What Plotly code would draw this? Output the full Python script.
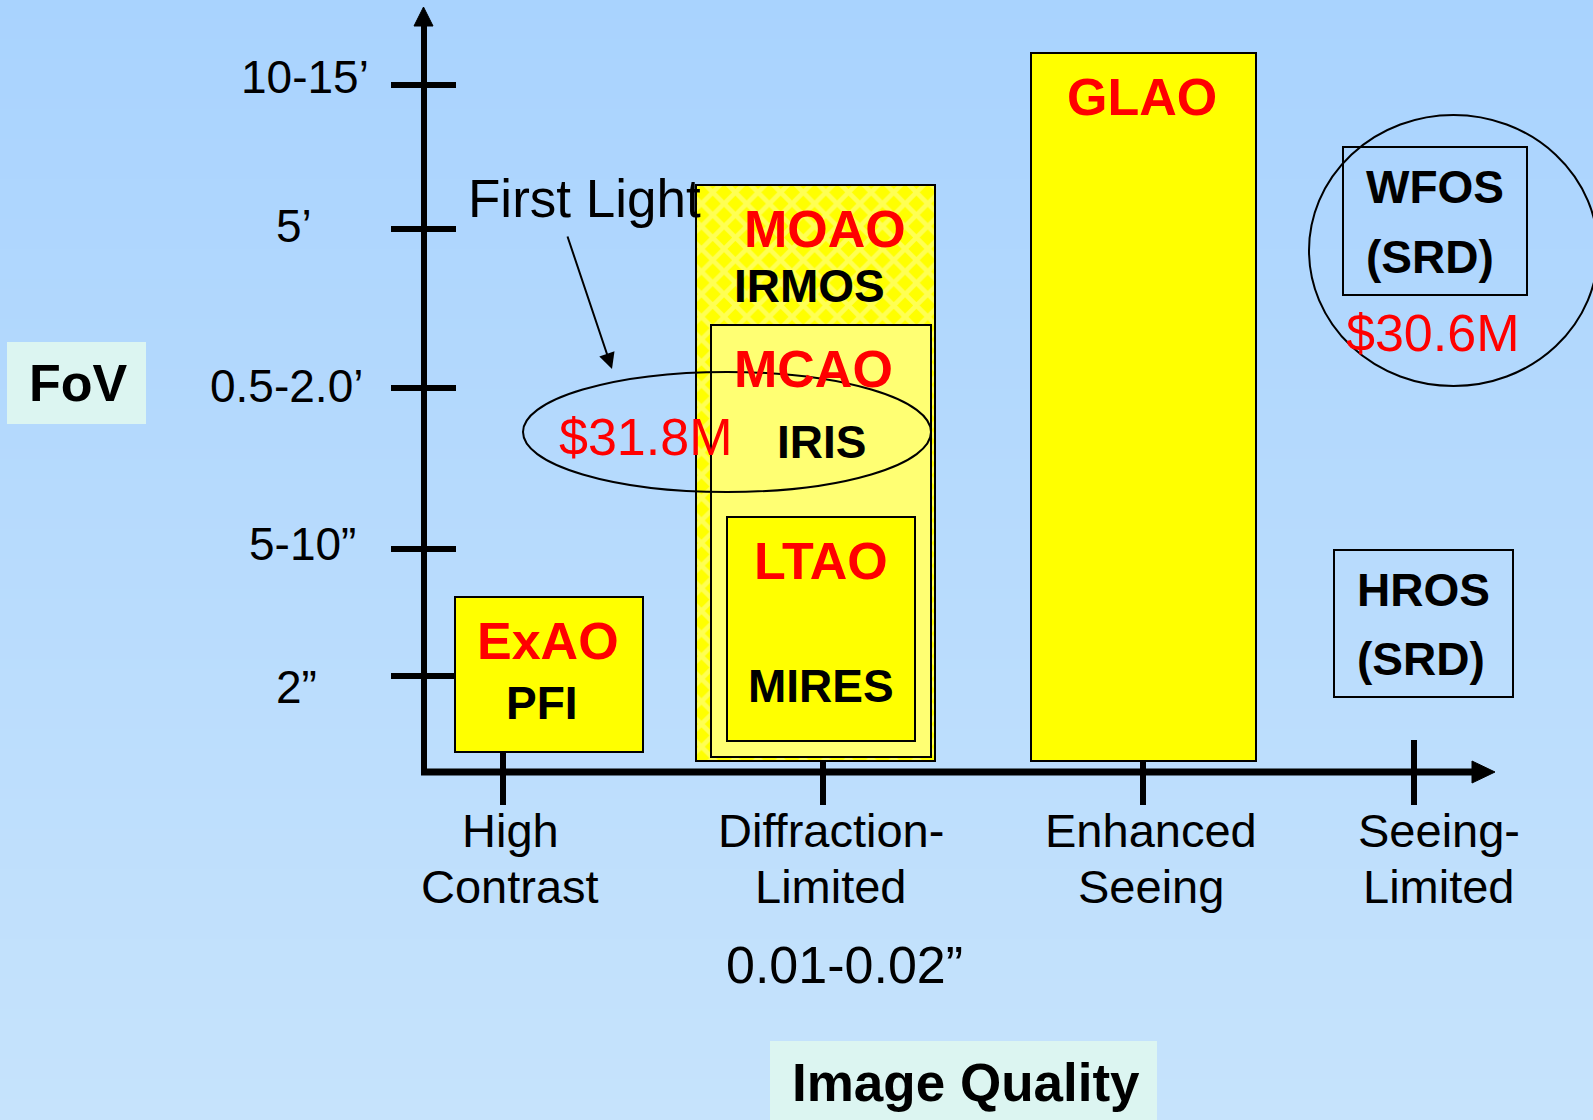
import plotly.graph_objects as go

W, H = 1593, 1120

# ---- data (diagram units, y measured downward) ----
fov_labels = ["10-15’", "5’", "0.5-2.0’", "5-10”", "2”"]
fov_tick_y = [85, 229, 388, 549, 676]
fov_label_x = [305, 294, 286, 302, 296]
fov_label_y = [77, 226, 386, 544, 687]

iq_labels = ["High\nContrast", "Diffraction-\nLimited", "Enhanced\nSeeing", "Seeing-\nLimited"]
iq_tick_x = [503, 823, 1143, 1414]
iq_label_x = [510, 831, 1151, 1439]
iq_sub_label = "0.01-0.02”"

box_names = ["ExAO", "MOAO", "MCAO", "LTAO", "GLAO", "WFOS", "HROS"]
box_x0 = [455, 696, 711, 727, 1031, 1343, 1334]
box_x1 = [643, 935, 931, 915, 1256, 1527, 1513]
box_y0 = [597, 185, 325, 517, 53, 147, 550]
box_y1 = [752, 761, 757, 741, 761, 295, 697]

ao_labels = ["GLAO", "MOAO", "MCAO", "LTAO", "ExAO"]
ao_label_x = [1142, 825, 813, 821, 548]
ao_label_y = [97, 229, 369, 561, 641]

inst_labels = ["IRMOS", "IRIS", "MIRES", "PFI", "WFOS", "(SRD)", "HROS", "(SRD)"]
inst_label_x = [809, 821, 821, 542, 1435, 1430, 1423, 1421]
inst_label_y = [286, 442, 686, 703, 187, 257, 590, 659]

cost_labels = ["$31.8M", "$30.6M"]
cost_label_x = [645, 1432]
cost_label_y = [437, 333]

FONT = "Liberation Sans, Arial, sans-serif"
RED = "#FF0000"

box_style = {
    "ExAO": dict(color="#FFFF00"),
    "MOAO": dict(color="#FFFF00", pattern=dict(shape="x", fgcolor="#FFFFA8", size=16, solidity=0.5)),
    "MCAO": dict(color="#FFFF73"),
    "LTAO": dict(color="#FFFF00"),
    "GLAO": dict(color="#FFFF00"),
    "WFOS": dict(color="rgba(0,0,0,0)"),
    "HROS": dict(color="rgba(0,0,0,0)"),
}

fig = go.Figure()

for name, x0, x1, y0, y1 in zip(box_names, box_x0, box_x1, box_y0, box_y1):
    st = box_style[name]
    marker = dict(color=st["color"], line=dict(color="black", width=2))
    if "pattern" in st:
        marker["pattern"] = st["pattern"]
    fig.add_trace(go.Bar(
        x=[(x0 + x1) / 2], y=[y1 - y0], base=[y0], width=[x1 - x0],
        marker=marker, name=name, hoverinfo="skip", showlegend=False,
    ))

shapes = []
# background gradient
top = (169, 211, 254)
bot = (198, 227, 252)
n = 112
for i in range(n):
    t = i / (n - 1)
    c = tuple(round(a + (b - a) * t) for a, b in zip(top, bot))
    shapes.append(dict(type="rect", xref="x", yref="y", x0=-5, x1=W + 5,
                       y0=i * H / n - 1, y1=(i + 1) * H / n + 1, layer="below",
                       line=dict(width=0), fillcolor="rgb(%d,%d,%d)" % c))
# label backgrounds
shapes.append(dict(type="rect", x0=7, x1=146, y0=342, y1=424, layer="below",
                   line=dict(width=0), fillcolor="#DCF5F1"))
shapes.append(dict(type="rect", x0=770, x1=1157, y0=1041, y1=1125, layer="below",
                   line=dict(width=0), fillcolor="#DCF5F1"))
AX_X, AX_Y = 424, 772
# x ticks (under boxes)
for tx in iq_tick_x:
    shapes.append(dict(type="line", x0=tx, x1=tx, y0=740, y1=805, layer="below",
                       line=dict(color="black", width=6)))
# y ticks
for ty in fov_tick_y:
    shapes.append(dict(type="line", x0=391, x1=456, y0=ty, y1=ty, layer="below",
                       line=dict(color="black", width=6)))
# axes lines
shapes.append(dict(type="line", x0=AX_X, x1=AX_X, y0=AX_Y + 3, y1=24,
                   line=dict(color="black", width=6)))
shapes.append(dict(type="line", x0=AX_X - 3, x1=1476, y0=AX_Y, y1=AX_Y,
                   line=dict(color="black", width=7)))
shapes.append(dict(type="path", path="M 414 26 L 433 26 L 423.5 7 Z",
                   fillcolor="black", line=dict(color="black", width=1)))
shapes.append(dict(type="path", path="M 1472 761 L 1472 783 L 1495 772 Z",
                   fillcolor="black", line=dict(color="black", width=1)))
# ellipses
shapes.append(dict(type="circle", x0=523, x1=931, y0=372, y1=492,
                   line=dict(color="black", width=2)))
shapes.append(dict(type="circle", x0=1309, x1=1598, y0=115, y1=386,
                   line=dict(color="black", width=2)))

ann = []
def txt(s, x, y, size, color="black", bold=False):
    ann.append(dict(text=s, x=x, y=y, xref="x", yref="y", showarrow=False,
                    xanchor="center", yanchor="middle",
                    font=dict(family=FONT, size=size, color=color,
                              weight="bold" if bold else "normal")))

for s, x, y in zip(fov_labels, fov_label_x, fov_label_y):
    txt(s, x, y, 46)
for s, x in zip(iq_labels, iq_label_x):
    l1, l2 = s.split("\n")
    txt(l1, x, 830, 47)
    txt(l2, x, 886, 47)
txt(iq_sub_label, 844, 965, 52)
for s, x, y in zip(ao_labels, ao_label_x, ao_label_y):
    txt(s, x, y, 52, RED, True)
for s, x, y in zip(inst_labels, inst_label_x, inst_label_y):
    txt(s, x, y, 46, "black", True)
for s, x, y in zip(cost_labels, cost_label_x, cost_label_y):
    txt(s, x, y, 52, RED)
txt("First Light", 584, 198, 53)
txt("FoV", 78, 383, 52, "black", True)
txt("Image Quality", 966, 1082, 53, "black", True)
# arrow
ann.append(dict(x=612, y=369, ax=567, ay=235, xref="x", yref="y", axref="x", ayref="y",
                text="", showarrow=True, arrowhead=2, arrowsize=1.6, arrowwidth=2,
                arrowcolor="black"))

fig.update_layout(
    width=W, height=H, margin=dict(l=0, r=0, t=0, b=0),
    paper_bgcolor="rgb(169,211,254)", plot_bgcolor="rgb(169,211,254)",
    xaxis=dict(range=[0, W], visible=False, fixedrange=True),
    yaxis=dict(range=[H, 0], visible=False, fixedrange=True),
    barmode="overlay", bargap=0, shapes=shapes, annotations=ann,
    showlegend=False,
)
fig.write_html("out.html", config={"displayModeBar": False},
               post_script="document.body.style.margin='0';document.body.style.overflow='hidden';")
